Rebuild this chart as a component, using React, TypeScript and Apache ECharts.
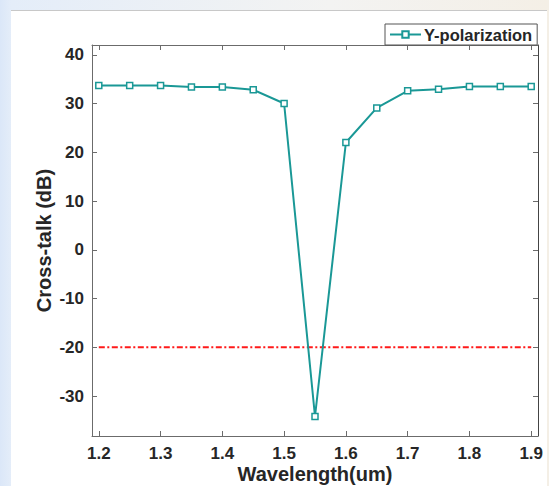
import React, { useEffect, useRef } from "react";
import * as echarts from "echarts";

const wavelengths = [1.2, 1.25, 1.3, 1.35, 1.4, 1.45, 1.5, 1.55, 1.6, 1.65, 1.7, 1.75, 1.8, 1.85, 1.9];
const crossTalk = [33.7, 33.7, 33.7, 33.4, 33.4, 32.8, 30.0, -34.2, 22.0, 29.1, 32.6, 32.9, 33.5, 33.5, 33.5];
const thresholdX = [1.2, 1.9];
const thresholdY = [-20, -20];
const xTicks = [1.2, 1.3, 1.4, 1.5, 1.6, 1.7, 1.8, 1.9];
const yTicks = [-30, -20, -10, 0, 10, 20, 30, 40];
const seriesName = "Y-polarization";

const TEAL = "#1a9896";
const AXIS = "#6b6b6b";
const TEXT = "#262626";
const FONT = "Liberation Sans, Arial, sans-serif";

export default function App() {
  const ref = useRef<HTMLDivElement>(null);
  useEffect(() => {
    if (!ref.current) return;
    const chart = echarts.init(ref.current, undefined, { renderer: "svg" });
    const xMin = 1.189, xMax = 1.911, yMin = -38.2, yMax = 42.0;
    const axisCommon = {
      type: "value" as const,
      splitLine: { show: false },
      axisLine: { show: true, onZero: false, lineStyle: { color: AXIS, width: 1 } },
    };
    chart.setOption({
      animation: false,
      backgroundColor: "transparent",
      textStyle: { fontFamily: FONT },
      grid: { left: 92, right: 11, top: 45, bottom: 50, containLabel: false, outerBoundsMode: "none" },
      legend: {
        data: [seriesName],
        left: 385,
        top: 24,
        padding: [2, 5, 2, 4],
        itemWidth: 31,
        itemHeight: 8,
        itemGap: 0,
        backgroundColor: "#ffffff",
        borderColor: "#555555",
        borderWidth: 1,
        borderRadius: 0,
        textStyle: { fontFamily: FONT, fontWeight: "bold", fontSize: 16.5, color: TEXT, padding: [0, 0, 0, -2] },
      },
      xAxis: [
        {
          ...axisCommon,
          position: "bottom",
          min: xMin,
          max: xMax,
          name: "Wavelength(um)",
          nameLocation: "middle",
          nameGap: 27,
          nameMoveOverlap: false,
          nameTextStyle: { fontFamily: FONT, fontWeight: "bold", fontSize: 20, lineHeight: 22, color: TEXT },
          axisTick: { show: true, inside: true, length: 5, customValues: xTicks, lineStyle: { color: AXIS } },
          axisLabel: {
            show: true,
            customValues: xTicks,
            margin: 9,
            fontFamily: FONT,
            fontWeight: "bold",
            fontSize: 17,
            color: TEXT,
            formatter: (v: number) => v.toFixed(1),
          },
        },
        {
          ...axisCommon,
          position: "top",
          min: xMin,
          max: xMax,
          axisTick: { show: true, inside: true, length: 5, customValues: xTicks, lineStyle: { color: AXIS } },
          axisLabel: { show: false },
        },
      ],
      yAxis: [
        {
          ...axisCommon,
          position: "left",
          min: yMin,
          max: yMax,
          name: "Cross-talk (dB)",
          nameLocation: "middle",
          nameGap: 38,
          nameMoveOverlap: false,
          nameTextStyle: { fontFamily: FONT, fontWeight: "bold", fontSize: 20, color: TEXT },
          axisTick: { show: true, inside: true, length: 5, customValues: yTicks, lineStyle: { color: AXIS } },
          axisLabel: {
            show: true,
            customValues: yTicks,
            margin: 8,
            fontFamily: FONT,
            fontWeight: "bold",
            fontSize: 17,
            color: TEXT,
          },
        },
        {
          ...axisCommon,
          position: "right",
          min: yMin,
          max: yMax,
          axisLine: { show: true, onZero: false, lineStyle: { color: "#444", width: 1 } },
          axisTick: { show: true, inside: true, length: 5, customValues: yTicks, lineStyle: { color: AXIS } },
          axisLabel: { show: false },
        },
      ],
      series: [
        {
          name: seriesName,
          type: "line",
          xAxisIndex: 0,
          yAxisIndex: 0,
          data: wavelengths.map((x, i) => [x, crossTalk[i]]),
          symbol: "rect",
          symbolSize: 6,
          showAllSymbol: true,
          lineStyle: { color: TEAL, width: 2 },
          itemStyle: { color: "#ffffff", borderColor: TEAL, borderWidth: 1.5 },
          z: 3,
        },
        {
          name: "threshold",
          type: "line",
          xAxisIndex: 0,
          yAxisIndex: 0,
          data: thresholdX.map((x, i) => [x, thresholdY[i]]),
          symbol: "none",
          lineStyle: { color: "#ff1a1a", width: 2, type: [6, 2.5, 2, 2.5] },
          z: 2,
        },
      ],
    });
    return () => chart.dispose();
  }, []);

  return (
    <div
      style={{
        position: "fixed",
        left: 0,
        top: 0,
        width: 549,
        height: 486,
        overflow: "hidden",
        background: "linear-gradient(90deg, #dbe7f8 0px, #e4edf9 11px, #f3f3f2 60%, #f4efe6 100%)",
      }}
    >
      <div
        style={{
          position: "absolute",
          left: 11,
          top: 10,
          width: 536,
          height: 476,
          background: "#ffffff",
          borderTop: "1px solid #c8c8c8",
        }}
      />
      <div ref={ref} style={{ position: "absolute", left: 0, top: 0, width: 549, height: 486 }} />
    </div>
  );
}
